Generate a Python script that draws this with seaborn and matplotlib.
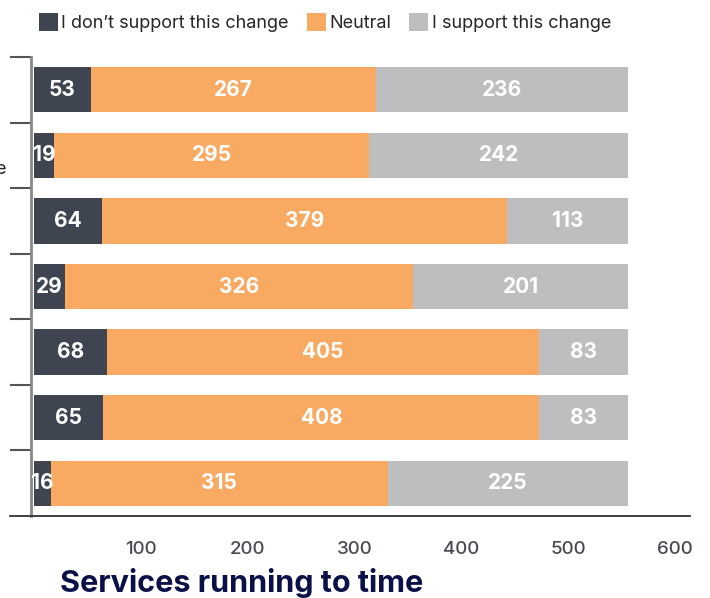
import matplotlib
matplotlib.use("Agg")
import matplotlib.pyplot as plt
import seaborn as sns
import pandas as pd
import numpy as np
from matplotlib.patches import Patch

categories = ["Q1", "Q2", "Q3", "Q4", "Q5", "Q6", "Q7"]
not_support = [53, 19, 64, 29, 68, 65, 16]
neutral = [267, 295, 379, 326, 405, 408, 315]
support = [236, 242, 113, 201, 83, 83, 225]
series_names = ["I don\u2019t support this change", "Neutral", "I support this change"]
xticks = [100, 200, 300, 400, 500, 600]
title = "Services running to time"

colors = ["#3e4450", "#f8a962", "#bdbec0"]

sns.set_theme(style="white")
plt.rcParams["font.family"] = ["Inter", "DejaVu Sans"]

df = pd.DataFrame({"cat": categories, "a": not_support, "b": neutral, "c": support})
df["c1"] = df["a"]
df["c2"] = df["a"] + df["b"]
df["c3"] = df["a"] + df["b"] + df["c"]

fig = plt.figure(figsize=(7.10, 5.98), dpi=100)
ax = fig.add_axes([10/710, 1-516/598, 680/710, (516-57)/598])

for col, color in zip(["c3", "c2", "c1"], colors[::-1]):
    sns.barplot(data=df, x=col, y="cat", order=categories, orient="h",
                color=color, width=0.69, ax=ax, saturation=1, linewidth=0)

# value labels
for i in range(len(categories)):
    starts = [0, df["c1"][i], df["c2"][i]]
    vals = [not_support[i], neutral[i], support[i]]
    for s, v in zip(starts, vals):
        ax.text(s + v/2, i, str(v), ha="center", va="center", color="white",
                fontsize=15, fontweight="bold")

ax.set_xlim(-22.5, 614)
ax.set_ylim(6.5, -0.5)
ax.set_xticks(xticks)
ax.set_xticklabels([str(t) for t in xticks], fontsize=13.5, color="#464b53",
                   fontweight="medium")
ax.tick_params(axis="x", length=0, pad=18)
ax.set_yticks(np.arange(-0.5, 6, 1.0))
ax.set_yticklabels([])
ax.tick_params(axis="y", left=True, length=15, width=1.5, color="#555555", direction="out")
ax.set_xlabel("")
ax.set_ylabel("")
for s in ["top", "right"]:
    ax.spines[s].set_visible(False)
ax.spines["left"].set_position(("data", -3))
ax.spines["left"].set_color("#888888")
ax.spines["left"].set_linewidth(2)
ax.spines["bottom"].set_color("#333333")
ax.spines["bottom"].set_linewidth(1.3)

handles = [Patch(facecolor=c, edgecolor="none") for c in colors]
fig.legend(handles, series_names, loc="upper left", bbox_to_anchor=(26/710, 1.0),
           ncol=3, frameon=False, fontsize=13, handlelength=1.05, handleheight=1.15,
           handletextpad=0.2, columnspacing=1.0, borderaxespad=0.3)

fig.text(60/710, 1-592/598, title, fontsize=22, fontweight="bold", color="#0b1048",
         ha="left", va="baseline")
fig.text(0, 1-170/598, "e", fontsize=13, color="#222222", ha="center", va="center")

fig.savefig("out.png", dpi=100)
